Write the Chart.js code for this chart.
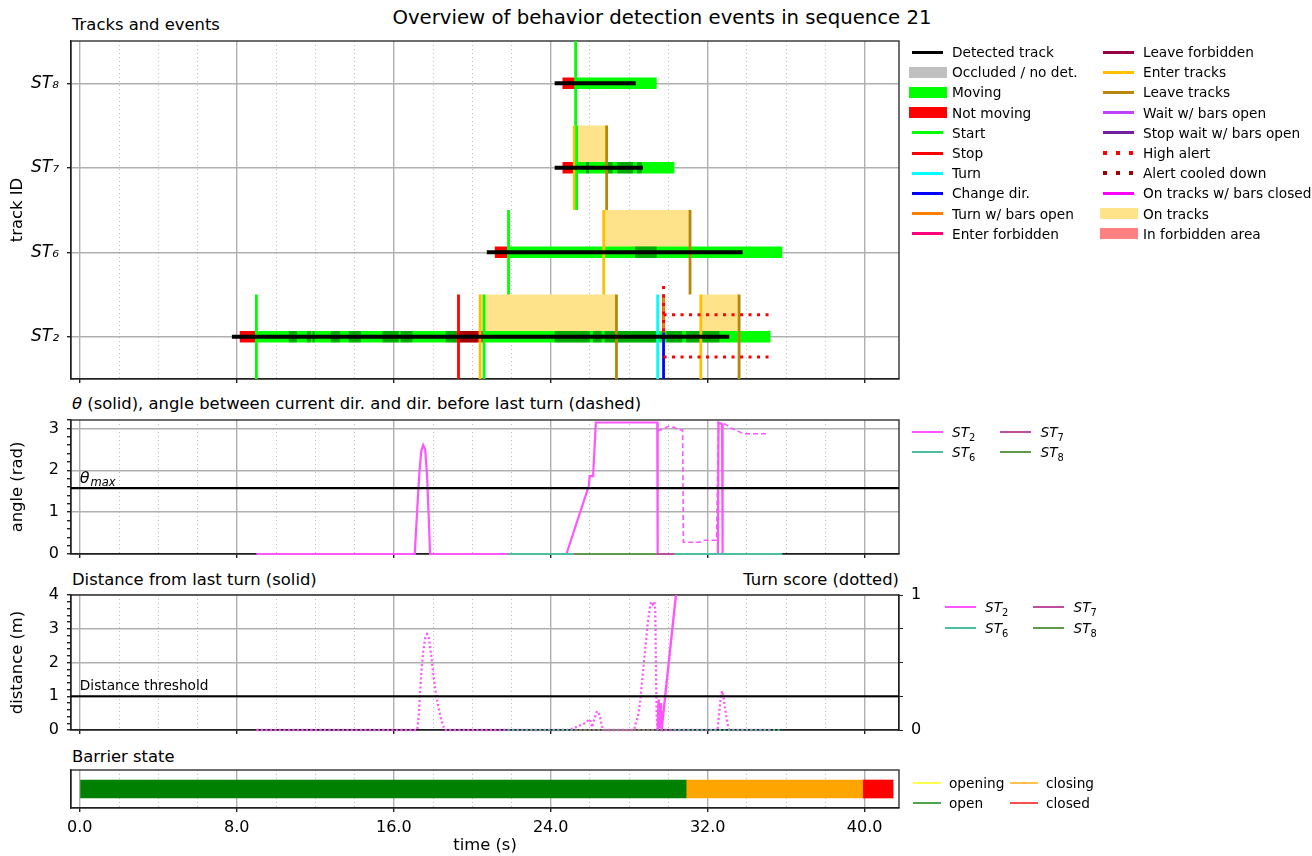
<!DOCTYPE html>
<html>
<head>
<meta charset="utf-8">
<title>Behavior detection events – sequence 21</title>
<script src="https://cdn.jsdelivr.net/npm/chart.js@4"></script>
<style>
  body { margin: 0; background: #fff; font-family: "DejaVu Sans", sans-serif; color: #000; }
  #page { position: relative; width: 1312px; height: 856px; overflow: hidden; }
  canvas { position: absolute; left: 0; }
  .txt { position: absolute; white-space: nowrap; line-height: 20px; }
  .lg { position: absolute; white-space: nowrap; font-size: 13.7px; line-height: 18px; }
  .hd { position: absolute; }
  sub { font-size: 72%; line-height: 0; }
</style>
</head>
<body>
<div id="page">
  <div class="txt" style="left:662px; top:8px; font-size:19.7px; transform:translateX(-50%);">Overview of behavior detection events in sequence 21</div>
  <div class="txt" style="left:72px; top:15px; font-size:16.4px;">Tracks and events</div>
  <div class="txt" style="left:72px; top:394px; font-size:16.4px;"><i>θ</i> (solid), angle between current dir. and dir. before last turn (dashed)</div>
  <div class="txt" style="left:72px; top:570px; font-size:16.4px;">Distance from last turn (solid)</div>
  <div class="txt" style="right:413px; top:570px; font-size:16.4px;">Turn score (dotted)</div>
  <div class="txt" style="left:72px; top:747px; font-size:16.4px;">Barrier state</div>

  <canvas id="events" width="1312" height="360" style="top:30px"></canvas>
  <canvas id="angle" width="1312" height="155" style="top:410px"></canvas>
  <canvas id="dist" width="1312" height="156" style="top:585px"></canvas>
  <canvas id="barrier" width="1312" height="96" style="top:760px"></canvas>
</div>
<script>
// ---- data ----
const trackLabels = ['ST₂', 'ST₆', 'ST₇', 'ST₈'];
const trackNums = ['2', '6', '7', '8'];
const majorTimes = [0, 8, 16, 24, 32, 40];
const minorTimes = [2, 4, 6, 10, 12, 14, 18, 20, 22, 26, 28, 30, 34, 36, 38];
const X_MIN = -0.45, X_MAX = 41.75;

// spans: [row, start, end]  (row 0 = ST2, 1 = ST6, 2 = ST7, 3 = ST8)
const detectedSpans = [[0, 7.75, 33.1], [1, 20.74, 33.78], [2, 24.2, 28.7], [3, 24.2, 28.33]];
const movingSpans = [[0, 9.0, 19.2], [0, 20.55, 35.2], [1, 21.8, 35.8], [2, 25.2, 30.3], [3, 25.27, 29.4]];
const notMovingSpans = [[0, 8.15, 9.0], [0, 19.2, 20.55], [1, 21.15, 21.8], [2, 24.6, 25.2], [3, 24.6, 25.27]];
const occludedSpans = [
  [0, 10.65, 11.06], [0, 11.57, 11.77], [0, 11.86, 11.97], [0, 12.79, 13.25], [0, 13.71, 14.32],
  [0, 15.42, 16.25], [0, 16.35, 16.95], [0, 18.65, 20.28], [0, 24.2, 26.0], [0, 26.15, 26.6],
  [0, 26.75, 29.38], [0, 29.9, 30.7], [0, 30.9, 32.6],
  [1, 28.3, 29.4],
  [2, 25.8, 25.95], [2, 26.9, 27.15], [2, 27.4, 28.2], [2, 28.4, 28.65]
];
const onTracksSpans = [[0, 20.4, 27.35], [0, 31.65, 33.6], [1, 26.7, 31.1], [2, 25.2, 26.85]];
const highAlertSpans = [[0, 29.75, 35.2]];

// events: [row, time]
const startEvents = [[0, 9.0], [0, 20.6], [1, 21.85], [2, 25.32], [3, 25.27]];
const stopEvents = [[0, 19.3]];
const turnEvents = [[0, 29.45]];
const changeDirEvents = [[0, 29.75]];
const turnBarsOpenEvents = [[0, 29.75]];
const enterTracksEvents = [[0, 20.4], [0, 31.65], [1, 26.7], [2, 25.2]];
const leaveTracksEvents = [[0, 27.35], [0, 33.6], [1, 31.1], [2, 26.85]];

// angle panel: [time, rad]
const THETA_MAX = 1.5708;
const thetaST2 = [
  [9.0, 0], [17.07, 0], [17.2, 1.1], [17.3, 1.9], [17.4, 2.45], [17.5, 2.6], [17.6, 2.5], [17.7, 1.85],
  [17.78, 0.9], [17.85, 0], [24.8, 0], [25.95, 1.64], [25.98, 1.86], [26.16, 1.86], [26.3, 3.14],
  [29.43, 3.14], [29.45, 0], [32.52, 0], [32.55, 3.14], [32.73, 3.1], [32.76, 0], [35.2, 0]
];
const turnAngleST2 = [
  [29.43, 2.94], [29.7, 2.98], [30.0, 3.05], [30.25, 3.03], [30.6, 2.96], [30.72, 2.96], [30.76, 0.28],
  [31.6, 0.28], [31.75, 0.33], [32.45, 0.33], [32.55, 3.14], [32.9, 3.1], [33.2, 3.0], [33.5, 2.95],
  [33.8, 2.87], [35.0, 2.87]
];
const thetaST6 = [[21.8, 0], [35.8, 0]];
const thetaST7 = [[25.2, 0], [30.3, 0]];
const thetaST8 = [[25.27, 0], [29.4, 0]];

// distance panel: [time, m] and turn score [time, 0..1]
const DIST_THRESHOLD = 1.0;
const distST2 = [[29.45, 0], [29.5, 0.9], [29.53, 0.05], [29.58, 0.8], [29.62, 0.1], [29.66, 0.05], [30.4, 4.1], [30.5, 4.6]];
const scoreST2 = [
  [9.0, 0], [17.2, 0], [17.28, 0.12], [17.35, 0.3], [17.42, 0.45], [17.5, 0.58], [17.6, 0.68], [17.7, 0.71],
  [17.78, 0.69], [17.85, 0.62], [17.95, 0.5], [18.05, 0.37], [18.15, 0.27], [18.25, 0.19], [18.35, 0.12],
  [18.45, 0.06], [18.6, 0], [24.8, 0], [25.1, 0.01], [25.43, 0.03], [25.73, 0.05], [25.99, 0.08],
  [26.1, 0.02], [26.2, 0.07], [26.36, 0.14], [26.5, 0.11], [26.6, 0.03], [26.7, 0], [28.25, 0],
  [28.35, 0.06], [28.45, 0.1], [28.55, 0.2], [28.65, 0.35], [28.75, 0.5], [28.85, 0.65], [28.95, 0.8],
  [29.05, 0.9], [29.12, 0.95], [29.2, 0.93], [29.28, 0.95], [29.33, 0.88], [29.36, 0.5], [29.4, 0.1],
  [29.45, 0], [32.5, 0], [32.58, 0.12], [32.65, 0.22], [32.73, 0.29], [32.8, 0.24], [32.9, 0.15],
  [33.0, 0.05], [33.1, 0], [35.2, 0]
];
const scoreST6 = [[21.8, 0], [35.8, 0]];
const scoreST7 = [[25.2, 0], [30.3, 0]];
const scoreST8 = [[25.27, 0], [29.4, 0]];

// barrier
const barrierStates = ['open', 'closing', 'closed'];
const barrierSpans = [[0, 30.9], [30.9, 39.9], [39.9, 41.45]];

// ---- colours ----
const C = {
  detected: '#000000', occluded: '#c0c0c0', moving: '#00ff00', notMoving: '#ff0000',
  start: '#00ff00', stop: '#ff0000', turn: '#00ffff', changeDir: '#0000ff', turnBarsOpen: '#ff7f00',
  enterForbidden: '#ff0080', leaveForbidden: '#990044', enterTracks: '#ffc000', leaveTracks: '#b8860b',
  waitOpen: '#c040ff', stopWaitOpen: '#7020a0', highAlert: '#ff0000', cooled: '#a00000',
  onTracksClosed: '#ff00ff', onTracks: '#ffe38a', forbidden: '#ff8080'
};
const trackColors = ['#ff55ff', '#4dbf9f', '#bf4d9f', '#5f9a4a'];
const barrierColors = ['#008000', '#ffa500', '#ff0000'];

const FONT = 'DejaVu Sans';
const GRID = '#b0b0b0';
const AXIS = '#222';
const TICK_SIZE = 16;
const LABEL_SIZE = 16.4;

Chart.defaults.font.family = FONT;
Chart.defaults.color = '#000';

const pts = arr => arr.map(([x, y]) => ({ x, y }));
const isMajor = v => majorTimes.includes(v);
const isWhole = v => Math.abs(v - Math.round(v)) < 1e-6;

// keep every plot box exactly where it is placed: no padding for overhanging tick labels
function fixSize(ax, w, h) {
  if (w !== null) ax.width = w;
  if (h !== null) ax.height = h;
  ax.paddingTop = 0; ax.paddingBottom = 0; ax.paddingLeft = 0; ax.paddingRight = 0;
}

function seg(data, color, width, order, extra) {
  return Object.assign({
    type: 'line', data, borderColor: color, borderWidth: width, borderCapStyle: 'butt',
    pointRadius: 0, pointHoverRadius: 0, fill: false, tension: 0, order
  }, extra || {});
}

// lines lying on y = 0 may spill over the bottom spine, like in matplotlib
const lowClip = { clip: { left: 0, top: 0, right: 0, bottom: 2 } };

function timeAxis(showLabels, height) {
  return {
    type: 'linear', min: X_MIN, max: X_MAX,
    afterBuildTicks: ax => { ax.ticks = majorTimes.concat(minorTimes).sort((a, b) => a - b).map(v => ({ value: v })); },
    afterFit: ax => fixSize(ax, null, height),
    grid: {
      color: c => isMajor(c.tick.value) ? GRID : '#bdbdbd',
      lineWidth: c => isMajor(c.tick.value) ? 1.4 : 1,
      tickColor: c => isMajor(c.tick.value) ? AXIS : 'rgba(0,0,0,0)',
      tickLength: 4
    },
    border: { color: AXIS, width: 1.3, dash: c => (c.tick && !isMajor(c.tick.value)) ? [1, 3] : [] },
    ticks: {
      display: showLabels, autoSkip: false, maxRotation: 0, padding: 6,
      font: { size: TICK_SIZE }, callback: v => isMajor(v) ? v.toFixed(1) : ''
    },
    title: { display: showLabels, text: 'time (s)', font: { size: LABEL_SIZE }, padding: { top: 0, bottom: 0 } }
  };
}

function valueAxis(min, max, step, label) {
  return {
    type: 'linear', min, max,
    afterFit: ax => fixSize(ax, 71, null),
    ticks: {
      stepSize: step, autoSkip: false, padding: 8, font: { size: TICK_SIZE },
      callback: v => isWhole(v) ? String(Math.round(v)) : ''
    },
    grid: {
      color: c => isWhole(c.tick.value) ? GRID : 'rgba(0,0,0,0)', lineWidth: 1.4,
      tickColor: AXIS, tickLength: 4
    },
    border: { color: AXIS, width: 1.3 },
    title: { display: true, text: label, font: { size: LABEL_SIZE }, padding: { top: 8, bottom: 0 } }
  };
}

// box around the plot area, drawn under the data so lines lying on y = 0 stay visible
const framePlugin = {
  id: 'frame',
  beforeDatasetsDraw(chart) {
    const { ctx, chartArea: a } = chart;
    ctx.save();
    ctx.strokeStyle = AXIS;
    ctx.lineWidth = 1.3;
    ctx.strokeRect(a.left, a.top, a.right - a.left, a.bottom - a.top);
    ctx.restore();
  }
};

function notes(items) {
  return {
    id: 'notes',
    afterDatasetsDraw(chart) {
      const ctx = chart.ctx;
      ctx.save();
      ctx.fillStyle = '#000';
      ctx.textBaseline = 'alphabetic';
      items.forEach(n => {
        const x = chart.scales.x.getPixelForValue(n.x);
        const y = chart.scales.y.getPixelForValue(n.y) - n.dy;
        ctx.font = n.font;
        ctx.fillText(n.text, x, y);
        if (n.sub) {
          const w = ctx.measureText(n.text).width;
          ctx.font = n.subFont;
          ctx.fillText(n.sub, x + w + 1, y + 3);
        }
      });
      ctx.restore();
    }
  };
}

const baseOptions = {
  responsive: false, maintainAspectRatio: false, animation: false, devicePixelRatio: 1, events: [],
  plugins: { legend: { display: false }, tooltip: { enabled: false } }
};

// ---- panel 1: tracks and events ----
const evSets = [];
const vline = (r, t) => [{ x: t, y: r - 0.5 }, { x: t, y: r + 0.5 }];
onTracksSpans.forEach(([r, a, b]) => evSets.push(seg([{ x: a, y: r + 0.5 }, { x: b, y: r + 0.5 }], 'rgba(0,0,0,0)', 1, 60,
  { fill: { value: r }, backgroundColor: C.onTracks })));
movingSpans.forEach(([r, a, b]) => evSets.push(seg([{ x: a, y: r }, { x: b, y: r }], C.moving, 11.5, 50)));
notMovingSpans.forEach(([r, a, b]) => evSets.push(seg([{ x: a, y: r }, { x: b, y: r }], C.notMoving, 11.5, 50)));
occludedSpans.forEach(([r, a, b]) => evSets.push(seg([{ x: a, y: r }, { x: b, y: r }], 'rgba(0,0,0,0.33)', 11.5, 45)));
startEvents.forEach(([r, t]) => evSets.push(seg(vline(r, t), C.start, 2.8, 30)));
stopEvents.forEach(([r, t]) => evSets.push(seg(vline(r, t), C.stop, 2.8, 30)));
turnEvents.forEach(([r, t]) => evSets.push(seg(vline(r, t), C.turn, 2.8, 30)));
enterTracksEvents.forEach(([r, t]) => evSets.push(seg(vline(r, t), C.enterTracks, 2.8, 30)));
leaveTracksEvents.forEach(([r, t]) => evSets.push(seg(vline(r, t), C.leaveTracks, 2.8, 30)));
changeDirEvents.forEach(([r, t]) => evSets.push(seg(vline(r, t), C.changeDir, 2.8, 32)));
turnBarsOpenEvents.forEach(([r, t]) => evSets.push(seg([{ x: t, y: r + 0.05 }, { x: t, y: r + 0.5 }], C.turnBarsOpen, 2.8, 28)));
highAlertSpans.forEach(([r, a, b]) => {
  const dots = { borderDash: [3, 5.5] };
  evSets.push(seg([{ x: a, y: r + 0.26 }, { x: b, y: r + 0.26 }], C.highAlert, 3, 20, dots));
  evSets.push(seg([{ x: a, y: r - 0.24 }, { x: b, y: r - 0.24 }], C.highAlert, 3, 20, dots));
  evSets.push(seg([{ x: a, y: r + 0.6 }, { x: a, y: r + 0.05 }], C.highAlert, 3, 20, dots));
});
detectedSpans.forEach(([r, a, b]) => evSets.push(seg([{ x: a, y: r }, { x: b, y: r }], C.detected, 4, 10)));

new Chart(document.getElementById('events'), {
  type: 'line',
  data: { datasets: evSets },
  options: Object.assign({}, baseOptions, {
    layout: { padding: { left: 0, right: 413, top: 11, bottom: 0 }, autoPadding: false },
    scales: {
      x: timeAxis(false, 11),
      y: {
        type: 'linear', min: -0.5, max: 3.5,
        afterFit: ax => fixSize(ax, 71, null),
        afterBuildTicks: ax => { ax.ticks = trackLabels.map((_, i) => ({ value: i })); },
        ticks: { autoSkip: false, padding: 8, font: { size: 17, style: 'italic' }, callback: v => trackLabels[v] },
        grid: { color: GRID, lineWidth: 1.4, tickColor: AXIS, tickLength: 4 },
        border: { color: AXIS, width: 1.3 },
        title: { display: true, text: 'track ID', font: { size: LABEL_SIZE }, padding: { top: 8, bottom: 0 } }
      }
    }
  }),
  plugins: [framePlugin]
});

// ---- panel 2: angle ----
new Chart(document.getElementById('angle'), {
  type: 'line',
  data: {
    datasets: [
      seg(pts([[X_MIN, THETA_MAX], [X_MAX, THETA_MAX]]), '#000', 2.2, 1),
      seg(pts(thetaST8), trackColors[3], 2, 33, lowClip),
      seg(pts(thetaST7), trackColors[2], 2, 34, lowClip),
      seg(pts(thetaST6), trackColors[1], 2, 35, lowClip),
      seg(pts(turnAngleST2), trackColors[0], 1.6, 36, Object.assign({ borderDash: [5, 3] }, lowClip)),
      seg(pts(thetaST2), trackColors[0], 2.2, 37, lowClip)
    ]
  },
  options: Object.assign({}, baseOptions, {
    layout: { padding: { left: 0, right: 413, top: 10, bottom: 0 }, autoPadding: false },
    scales: { x: timeAxis(false, 11), y: valueAxis(0, 3.2, 0.2, 'angle (rad)') }
  }),
  plugins: [framePlugin, notes([{ x: 0, y: THETA_MAX, dy: 5, text: 'θ', sub: 'max', font: 'italic 16px "DejaVu Sans"', subFont: 'italic 11.5px "DejaVu Sans"' }])]
});

// ---- panel 3: distance and turn score ----
const dotted = Object.assign({ borderDash: [2, 2.5], yAxisID: 'y2' }, lowClip);
new Chart(document.getElementById('dist'), {
  type: 'line',
  data: {
    datasets: [
      seg(pts([[X_MIN, DIST_THRESHOLD], [X_MAX, DIST_THRESHOLD]]), '#000', 2.2, 1),
      seg(pts(scoreST8), trackColors[3], 2, 33, dotted),
      seg(pts(scoreST7), trackColors[2], 2, 34, dotted),
      seg(pts(scoreST6), trackColors[1], 2, 35, dotted),
      seg(pts(scoreST2), trackColors[0], 2.3, 36, dotted),
      seg(pts(distST2), trackColors[0], 2.4, 37, lowClip)
    ]
  },
  options: Object.assign({}, baseOptions, {
    layout: { padding: { left: 0, right: 383, top: 10, bottom: 0 }, autoPadding: false },
    scales: {
      x: timeAxis(false, 11),
      y: valueAxis(0, 4, 0.2, 'distance (m)'),
      y2: {
        type: 'linear', position: 'right', min: 0, max: 1,
        afterFit: ax => fixSize(ax, 30, null),
        afterBuildTicks: ax => { ax.ticks = [0, 0.25, 0.5, 0.75, 1].map(v => ({ value: v })); },
        ticks: { autoSkip: false, padding: 8, font: { size: TICK_SIZE }, callback: v => (v === 0 || v === 1) ? String(v) : '' },
        grid: { drawOnChartArea: false, tickColor: AXIS, tickLength: 4 },
        border: { color: AXIS, width: 1.3 }
      }
    }
  }),
  plugins: [framePlugin, notes([{ x: 0, y: DIST_THRESHOLD, dy: 6, text: 'Distance threshold', font: '13.7px "DejaVu Sans"' }])]
});

// ---- panel 4: barrier state ----
new Chart(document.getElementById('barrier'), {
  type: 'bar',
  data: {
    labels: ['barrier'],
    datasets: barrierStates.map((s, i) => ({
      label: s, data: [barrierSpans[i]], backgroundColor: barrierColors[i],
      barThickness: 18, grouped: false, borderWidth: 0
    }))
  },
  options: Object.assign({}, baseOptions, {
    indexAxis: 'y',
    layout: { padding: { left: 0, right: 413, top: 10, bottom: 0 }, autoPadding: false },
    scales: {
      x: timeAxis(true, 48),
      y: {
        type: 'category',
        afterFit: ax => fixSize(ax, 71, null),
        ticks: { display: false },
        grid: { display: false },
        border: { color: AXIS, width: 1.3 }
      }
    }
  }),
  plugins: [framePlugin]
});

// ---- HTML legends ----
const eventLegend = [
  ['Detected track', 'line', C.detected], ['Occluded / no det.', 'band', C.occluded], ['Moving', 'band', C.moving],
  ['Not moving', 'band', C.notMoving], ['Start', 'line', C.start], ['Stop', 'line', C.stop], ['Turn', 'line', C.turn],
  ['Change dir.', 'line', C.changeDir], ['Turn w/ bars open', 'line', C.turnBarsOpen], ['Enter forbidden', 'line', C.enterForbidden],
  ['Leave forbidden', 'line', C.leaveForbidden], ['Enter tracks', 'line', C.enterTracks], ['Leave tracks', 'line', C.leaveTracks],
  ['Wait w/ bars open', 'line', C.waitOpen], ['Stop wait w/ bars open', 'line', C.stopWaitOpen], ['High alert', 'dots', C.highAlert],
  ['Alert cooled down', 'dots', C.cooled], ['On tracks w/ bars closed', 'line', C.onTracksClosed], ['On tracks', 'band', C.onTracks],
  ['In forbidden area', 'band', C.forbidden]
];
const trackLegend = trackNums.map((n, i) => ['<i>ST</i><sub>' + n + '</sub>', 'line', trackColors[i]]);
const barrierLegend = [['opening', 'line', '#ffff4d'], ['open', 'line', '#4da64d'], ['closing', 'line', '#ffc04d'], ['closed', 'line', '#ff4d4d']];

function drawLegend(items, o) {
  const page = document.getElementById('page');
  items.forEach(([label, kind, color], i) => {
    const col = Math.floor(i / o.rows), row = i % o.rows;
    const cx = o.x + col * o.colW, cy = o.y + row * o.rowH;
    const h = document.createElement('div');
    h.className = 'hd';
    let w = o.handleW || 31, ht = o.lineH || 3;
    if (kind === 'band') { w = 38; ht = 11; h.style.background = color; }
    else if (kind === 'dots') { ht = 4; h.style.background = 'repeating-linear-gradient(to right,' + color + ' 0 4px, transparent 4px 13px)'; }
    else h.style.background = color;
    h.style.left = (cx - w / 2) + 'px';
    h.style.top = (cy - ht / 2) + 'px';
    h.style.width = w + 'px';
    h.style.height = ht + 'px';
    page.appendChild(h);
    const t = document.createElement('div');
    t.className = 'lg';
    t.style.left = (cx + o.textDx) + 'px';
    t.style.top = (cy - 9) + 'px';
    t.innerHTML = label;
    page.appendChild(t);
  });
}
drawLegend(eventLegend, { x: 927.5, y: 52, colW: 191, rowH: 20.2, rows: 10, textDx: 24.5 });
drawLegend(trackLegend, { x: 927, y: 432, colW: 88.5, rowH: 20, rows: 2, textDx: 25, lineH: 2.5 });
drawLegend(trackLegend, { x: 960, y: 607, colW: 88.5, rowH: 21, rows: 2, textDx: 25, lineH: 2.5 });
drawLegend(barrierLegend, { x: 927, y: 783, colW: 97, rowH: 20, rows: 2, textDx: 22, lineH: 2.5, handleW: 28 });
</script>
</body>
</html>
